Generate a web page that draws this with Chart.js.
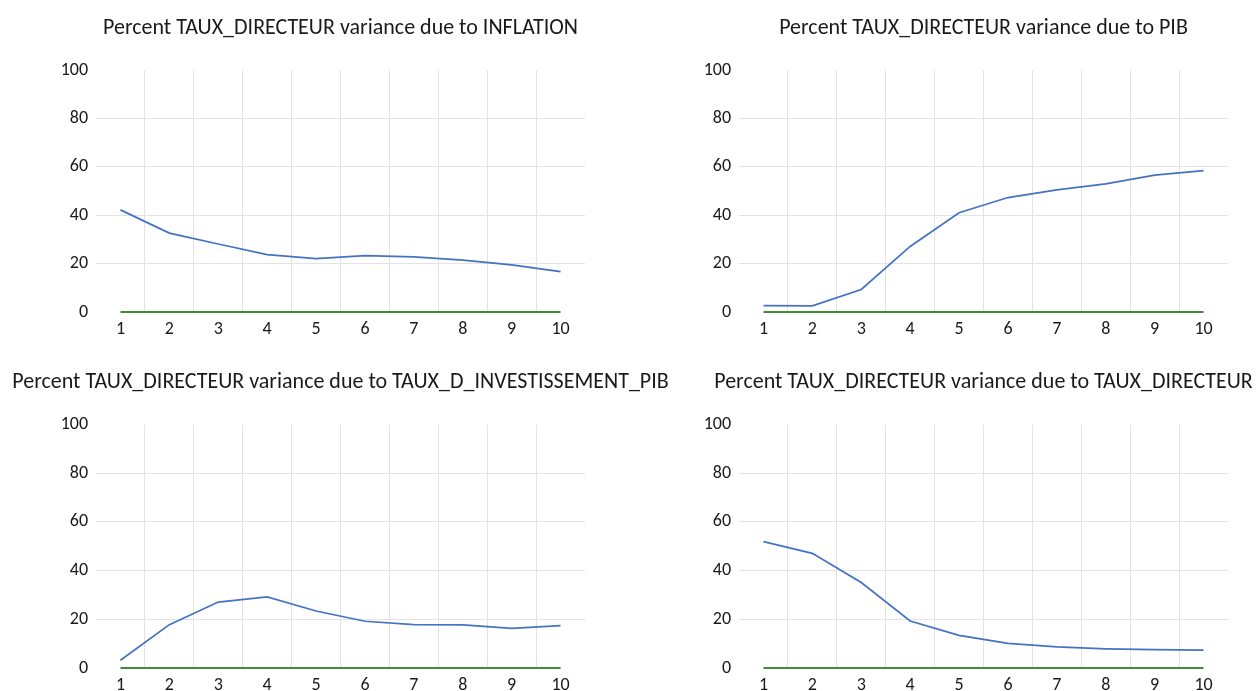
<!DOCTYPE html>
<html>
<head>
<meta charset="utf-8">
<script src="https://cdn.jsdelivr.net/npm/chart.js@4/dist/chart.umd.min.js"></script>
<style>
  html, body { margin: 0; padding: 0; background: #ffffff; }
  body { width: 1256px; height: 691px; position: relative; overflow: hidden; }
  canvas { position: absolute; }
</style>
</head>
<body>
<canvas id="c1"></canvas>
<canvas id="c2"></canvas>
<canvas id="c3"></canvas>
<canvas id="c4"></canvas>
<script>
// Forecast horizons (periods)
const steps = ['1', '2', '3', '4', '5', '6', '7', '8', '9', '10'];

// Share of TAUX_DIRECTEUR forecast-error variance explained by each shock (%)
const inflationShare = [42.2, 32.6, 28.1, 23.7, 22.1, 23.3, 22.8, 21.4, 19.5, 16.7];
const pibShare       = [2.6, 2.5, 9.3, 27.1, 41.0, 47.3, 50.5, 52.9, 56.6, 58.4];
const investShare    = [3.2, 17.8, 27.1, 29.2, 23.4, 19.2, 17.8, 17.7, 16.3, 17.4];
const ownShare       = [51.9, 47.1, 35.1, 19.3, 13.4, 10.1, 8.7, 7.9, 7.5, 7.3];

// Reference line at zero
const zeroLine = [0, 0, 0, 0, 0, 0, 0, 0, 0, 0];

// Value axis ticks
const yTickValues = [0, 20, 40, 60, 80, 100];

const titles = [
  'Percent TAUX_DIRECTEUR variance due to INFLATION',
  'Percent TAUX_DIRECTEUR variance due to PIB',
  'Percent TAUX_DIRECTEUR variance due to TAUX_D_INVESTISSEMENT_PIB',
  'Percent TAUX_DIRECTEUR variance due to TAUX_DIRECTEUR'
];
const shares = [inflationShare, pibShare, investShare, ownShare];

const FONT = "Carlito, Lato, 'Open Sans', sans-serif";
const TEXT = '#1a1a1a';
const GRID = '#e3e3e3';
const BLUE = '#4472c4';
const GREEN = '#3f8e36';
const CLEAR = 'rgba(0,0,0,0)';

// Panel frames: canvas box and plot-area insets
const panels = [
  { left: 0,   top: 0,   w: 700, h: 345, axisW: 96,  padR: 115, padT: 70,   axisH: 33 },
  { left: 628, top: 0,   w: 628, h: 345, axisW: 111, padR: 28,  padT: 70,   axisH: 33 },
  { left: 0,   top: 345, w: 700, h: 346, axisW: 96,  padR: 115, padT: 79.5, axisH: 23 },
  { left: 628, top: 345, w: 628, h: 346, axisW: 111, padR: 28,  padT: 79.5, axisH: 23 }
];

const panelTitle = {
  id: 'panelTitle',
  afterDraw(chart, args, opts) {
    const { ctx, chartArea } = chart;
    ctx.save();
    ctx.font = '22px ' + FONT;
    ctx.fillStyle = TEXT;
    ctx.textAlign = 'center';
    ctx.textBaseline = 'middle';
    ctx.fillText(opts.text, (chartArea.left + chartArea.right) / 2, chartArea.top - 42);
    ctx.restore();
  }
};

panels.forEach((p, i) => {
  const cv = document.getElementById('c' + (i + 1));
  cv.width = p.w; cv.height = p.h;
  cv.style.left = p.left + 'px'; cv.style.top = p.top + 'px';
  cv.style.width = p.w + 'px'; cv.style.height = p.h + 'px';

  new Chart(cv, {
    type: 'line',
    data: {
      labels: steps,
      datasets: [
        { data: zeroLine, borderColor: GREEN, borderWidth: 2, pointRadius: 0, tension: 0, clip: false, order: 2 },
        { data: shares[i], borderColor: BLUE, borderWidth: 1.75, pointRadius: 0, tension: 0, clip: false, order: 1 }
      ]
    },
    plugins: [panelTitle],
    options: {
      responsive: false,
      animation: false,
      events: [],
      layout: { padding: { left: 0, right: p.padR, top: p.padT, bottom: 0 } },
      plugins: {
        legend: { display: false },
        tooltip: { enabled: false },
        title: { display: false },
        panelTitle: { text: titles[i] }
      },
      scales: {
        x: {
          type: 'category',
          offset: true,
          grid: {
            offset: true,
            drawTicks: false,
            lineWidth: 1,
            // only the dividers between horizons, not the plot edges
            color: c => (c.type !== 'tick' || c.index === 0) ? CLEAR : GRID
          },
          border: { display: false },
          ticks: { color: TEXT, font: { family: FONT, size: 18 }, padding: 7, maxRotation: 0, autoSkip: false },
          afterFit: s => { s.height = p.axisH; }
        },
        y: {
          min: 0, max: 100,
          afterBuildTicks: s => { s.ticks = yTickValues.map(v => ({ value: v })); },
          grid: {
            drawTicks: false,
            lineWidth: 1,
            color: c => (!c.tick || c.tick.value === 0 || c.tick.value === 100) ? CLEAR : GRID
          },
          border: { display: false },
          ticks: { color: TEXT, font: { family: FONT, size: 18 }, padding: 8 },
          afterFit: s => { s.width = p.axisW; }
        }
      }
    }
  });
});
</script>
</body>
</html>
